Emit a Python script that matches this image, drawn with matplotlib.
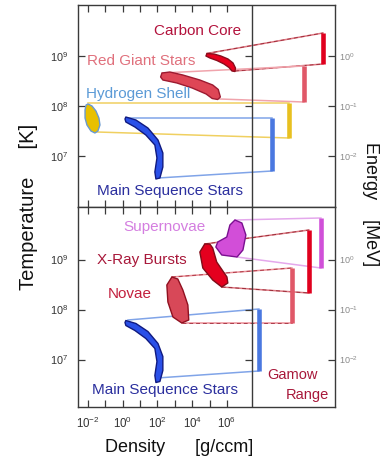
import numpy as np
import matplotlib
matplotlib.use('Agg')
import matplotlib.pyplot as plt
from matplotlib.patches import Polygon

plt.rcParams['font.family'] = ['Liberation Sans', 'DejaVu Sans']
plt.rcParams['mathtext.fontset'] = 'custom'
plt.rcParams['mathtext.rm'] = 'Liberation Sans'
plt.rcParams['mathtext.it'] = 'Liberation Sans:italic'
plt.rcParams['mathtext.bf'] = 'Liberation Sans:bold'

# axes: log10 density [g/ccm] vs log10 temperature [K]
rho_ticks = [-2, -1, 0, 1, 2, 3, 4, 5, 6]
rho_labels = ['$10^{-2}$', '', '$10^{0}$', '', '$10^{2}$', '', '$10^{4}$', '', '$10^{6}$']
T_ticks = [7, 8, 9]
T_labels = ['$10^{7}$', '$10^{8}$', '$10^{9}$']
E_labels = ['$10^{-2}$', '$10^{-1}$', '$10^{0}$']
rho_edge = 7.44   # where the density scale ends and the Gamow columns start

# ---- quiescent burning (upper panel) ----
carbon_rho = [4.85, 5.25, 5.65, 6.06, 6.35, 6.49, 6.46, 6.29, 6.12, 5.83, 5.42, 5.02, 4.79]
carbon_T = [9.05, 9.04, 9.00, 8.94, 8.86, 8.76, 8.69, 8.70, 8.77, 8.84, 8.91, 8.96, 9.00]
giant_rho = [2.26, 2.71, 3.46, 4.44, 5.18, 5.50, 5.62, 5.47, 5.15, 4.80, 4.00, 3.12, 2.31, 2.18]
giant_T = [8.66, 8.68, 8.62, 8.52, 8.42, 8.33, 8.18, 8.13, 8.15, 8.24, 8.36, 8.46, 8.52, 8.58]
shell_rho = [-2.00, -1.77, -1.54, -1.37, -1.31, -1.43, -1.60, -1.83, -2.06, -2.17, -2.17, -2.11]
shell_T = [8.04, 8.00, 7.90, 7.76, 7.62, 7.50, 7.46, 7.50, 7.62, 7.76, 7.92, 8.02]
mainseq_rho = [0.18, 0.76, 1.45, 2.03, 2.31, 2.31, 2.14, 1.91, 1.85, 1.97, 1.85, 1.33, 0.70, 0.18, 0.13]
mainseq_T = [7.78, 7.72, 7.56, 7.32, 7.06, 6.78, 6.56, 6.54, 6.68, 6.96, 7.22, 7.42, 7.58, 7.68, 7.74]

# ---- explosive burning (lower panel) ----
snova_rho = [6.46, 6.86, 7.09, 6.92, 6.58, 5.70, 5.36, 5.47, 5.99, 6.17]
snova_T = [9.79, 9.73, 9.49, 9.19, 9.05, 9.09, 9.25, 9.35, 9.45, 9.69]
xray_rho = [4.72, 4.44, 4.61, 5.18, 5.70, 6.05, 6.00, 5.41, 5.18, 5.01]
xray_T = [9.31, 9.15, 8.83, 8.59, 8.45, 8.53, 8.65, 8.95, 9.23, 9.31]
novae_rho = [2.83, 2.54, 2.60, 2.89, 3.40, 3.80, 3.75, 3.46, 3.17]
novae_T = [8.65, 8.49, 8.15, 7.85, 7.73, 7.79, 8.09, 8.39, 8.61]

# Gamow window bars (column, T top, T bottom) and where the projection leaves each site
top_gamow_x = [11.53, 10.43, 9.57, 8.59]
top_gamow_hi = [9.46, 8.80, 8.06, 7.76]
top_gamow_lo = [8.84, 8.08, 7.36, 6.70]
top_from_hi = [(4.84, 9.05), (2.26, 8.66), (-2.00, 8.06), (0.30, 7.76)]
top_from_lo = [(6.46, 8.70), (5.59, 8.14), (-1.48, 7.48), (2.03, 6.56)]

bot_gamow_x = [11.41, 10.72, 9.74, 7.84]
bot_gamow_hi = [9.83, 9.59, 8.83, 8.01]
bot_gamow_lo = [8.83, 8.33, 7.73, 6.77]
bot_from_hi = [(6.46, 9.79), (4.72, 9.31), (2.83, 8.65), (0.30, 7.79)]
bot_from_lo = [(6.58, 9.05), (5.70, 8.45), (3.40, 7.73), (1.97, 6.63)]

top_names = ['Carbon Core', 'Red Giant Stars', 'Hydrogen Shell', 'Main Sequence Stars']
top_name_rho = [1.79, -2.06, -2.11, -1.48]
top_name_T = [9.50, 8.90, 8.24, 6.30]
bot_names = ['Supernovae', 'X-Ray Bursts', 'Novae', 'Main Sequence Stars']
bot_name_rho = [0.01, -1.48, -0.85, -1.77]
bot_name_T = [9.65, 8.99, 8.31, 6.39]

# colours: fill, edge, bar, projection line, label
top_style = [
    ('#e8001e', '#8a0c1c', '#e0001e', '#dc7882', '#b3123c'),
    ('#de4656', '#9c1a30', '#e05868', '#f0a4ac', '#e0707c'),
    ('#e8c000', '#6a9ad0', '#e8c020', '#f0d060', '#5b9ad6'),
    ('#2a50e8', '#101a80', '#4a78e0', '#80a4e8', '#2b2f9e'),
]
bot_style = [
    ('#d24ed8', '#7a1090', '#d050d8', '#e4a8ec', '#d47ee0'),
    ('#e4001e', '#800c18', '#e0001e', '#dc7882', '#a8183a'),
    ('#d84858', '#901020', '#e05868', '#ec9098', '#c3203e'),
    ('#2a50e8', '#101a80', '#4a78e0', '#80a4e8', '#2b2f9e'),
]
# the dark red projections are drawn with a dashed core
top_dashed = [True, False, False, False]
bot_dashed = [False, True, True, False]

frame = '#3a3a3a'


def setup(ax, ylim, show_x):
    ax.set_xlim(-2.575, 12.22)
    ax.set_ylim(*ylim)
    ax.set_xticks(rho_ticks)
    ax.set_xticklabels(rho_labels if show_x else [''] * len(rho_ticks))
    ax.set_yticks(T_ticks)
    ax.set_yticklabels(T_labels)
    ax.tick_params(axis='x', direction='in', top=True, length=5, width=0.9,
                   color=frame, labelsize=8.3, labelcolor='#333333', pad=6)
    ax.tick_params(axis='y', direction='in', length=5, width=0.9, color=frame,
                   labelsize=7.8, labelcolor='#333333', pad=7)
    for s in ax.spines.values():
        s.set_color(frame)
        s.set_linewidth(1.0)
    ax.axvline(rho_edge, color=frame, lw=1.0, zorder=5)
    ax.plot([rho_edge] * len(T_ticks), T_ticks, ls='none', marker=0, ms=5,
            mew=0.9, color=frame, zorder=5)
    # energy scale of the Gamow window on the right
    ex = ax.twinx()
    ex.set_ylim(*ylim)
    ex.set_yticks(T_ticks)
    ex.set_yticklabels(E_labels)
    ex.tick_params(axis='y', direction='in', length=5, width=0.9, color=frame,
                   labelsize=6.5, labelcolor='#8a8a8a', pad=3)
    for s in ex.spines.values():
        s.set_visible(False)


def draw_sites(ax, shapes, styles, dashed, gx, ghi, glo, fhi, flo, names, nrho, nT):
    for i, (rho, T) in enumerate(shapes):
        fill, edge, bar, line, lab = styles[i]
        for start, end in ((fhi[i], ghi[i]), (flo[i], glo[i])):
            ax.plot([start[0], gx[i]], [start[1], end], color=line, lw=1.1, zorder=1)
            if dashed[i]:
                ax.plot([start[0], gx[i]], [start[1], end], color=edge, lw=0.7,
                        dashes=(4, 3), alpha=0.7, zorder=1)
        ax.plot([gx[i], gx[i]], [glo[i], ghi[i]], color=bar, lw=3.3,
                solid_capstyle='butt', zorder=2)
        ax.add_patch(Polygon(np.column_stack([rho, T]), closed=True, fc=fill,
                             ec=edge, lw=1.0, joinstyle='round', zorder=3))
        ax.text(nrho[i], nT[i], names[i], color=lab, fontsize=11,
                ha='left', va='center', zorder=4)


fig = plt.figure(figsize=(3.81, 4.66), dpi=100)
ax_top = fig.add_axes([78 / 381, 1 - 207 / 466, 257 / 381, 202 / 466])
ax_bot = fig.add_axes([78 / 381, 1 - 407 / 466, 257 / 381, 200 / 466])

setup(ax_top, (5.98, 10.02), False)
setup(ax_bot, (6.05, 10.05), True)

draw_sites(ax_top,
           [(carbon_rho, carbon_T), (giant_rho, giant_T), (shell_rho, shell_T),
            (mainseq_rho, mainseq_T)],
           top_style, top_dashed, top_gamow_x, top_gamow_hi, top_gamow_lo,
           top_from_hi, top_from_lo, top_names, top_name_rho, top_name_T)
draw_sites(ax_bot,
           [(snova_rho, snova_T), (xray_rho, xray_T), (novae_rho, novae_T),
            (mainseq_rho, mainseq_T)],
           bot_style, bot_dashed, bot_gamow_x, bot_gamow_hi, bot_gamow_lo,
           bot_from_hi, bot_from_lo, bot_names, bot_name_rho, bot_name_T)

ax_bot.text(8.34, 6.69, 'Gamow', color='#a8183a', fontsize=10.5, ha='left', va='center')
ax_bot.text(9.38, 6.29, 'Range', color='#a8183a', fontsize=10.5, ha='left', va='center')

fig.text(29 / 381, 1 - 207 / 466, 'Temperature     [K]', rotation=90,
         fontsize=14.5, color='#111111', ha='center', va='center')
fig.text(370 / 381, 1 - 204 / 466, 'Energy    [MeV]', rotation=270,
         fontsize=13, color='#111111', ha='center', va='center')
fig.text(105 / 381, 1 - 448 / 466, 'Density      [g/ccm]', fontsize=13,
         color='#111111', ha='left', va='center')

fig.savefig('out.png', dpi=100, facecolor='white')
